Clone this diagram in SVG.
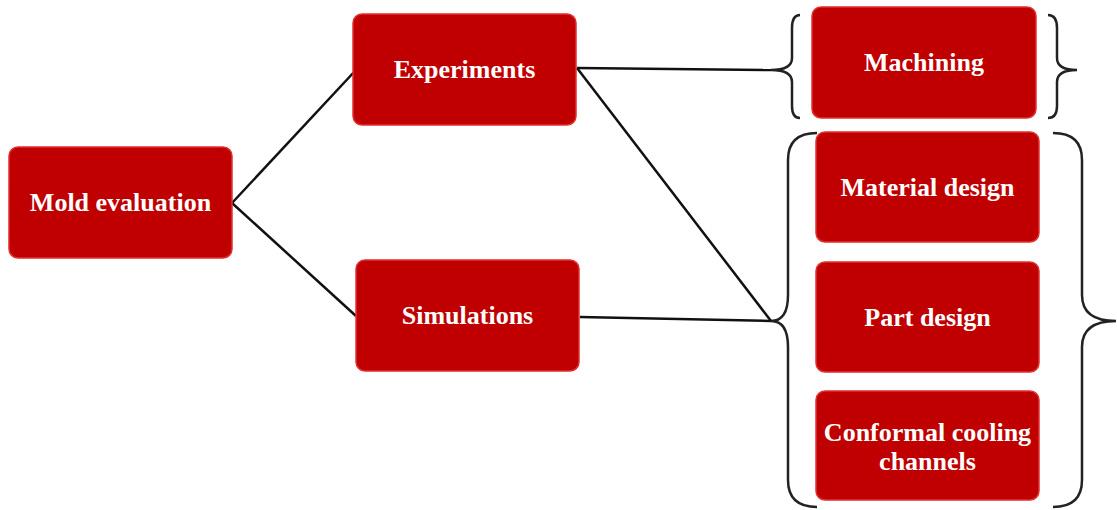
<svg xmlns="http://www.w3.org/2000/svg" width="1117" height="510" viewBox="0 0 1117 510">
<style>
.box{fill:#C00000;stroke:#E03030;stroke-width:1.5}
.lbl{fill:#FFFFFF;font-family:"Liberation Serif","Times New Roman",serif;font-weight:bold;font-size:26px;text-anchor:middle;dominant-baseline:central}
.ln{fill:none;stroke:#111111;stroke-width:2.5}
.br{fill:none;stroke:#222222;stroke-width:2.5}
</style>
<rect width="1117" height="510" fill="#FFFFFF"/>
<g id="connectors">
<line class="ln" x1="232" y1="203" x2="355" y2="71"/>
<line class="ln" x1="232" y1="203" x2="356" y2="316"/>
<line class="ln" x1="577" y1="68" x2="771" y2="70"/>
<line class="ln" x1="577" y1="68" x2="771" y2="321"/>
<line class="ln" x1="580" y1="317" x2="771" y2="321"/>
</g>
<g id="braces">
<path class="br" d="M800,15 Q792,15 792,28 L792,58 Q792,70 771,70 Q792,70 792,82 L792,106 Q792,118 800,118"/>
<path class="br" d="M1048,15 Q1057,15 1057,28 L1057,58 Q1057,70 1077,70 Q1057,70 1057,82 L1057,106 Q1057,118 1048,118"/>
<path class="br" d="M817,133 Q788,133 788,160 L788,295 Q788,321 771,321 Q788,321 788,347 L788,480 Q788,507 817,507"/>
<path class="br" d="M1053,133 Q1082,133 1082,160 L1082,295 Q1082,321 1116,321 Q1082,321 1082,347 L1082,480 Q1082,507 1053,507"/>
</g>
<g id="mold-evaluation">
<rect class="box" x="9" y="147" width="223" height="111" rx="9"/>
<text class="lbl" x="120.5" y="202">Mold evaluation</text>
</g>
<g id="experiments">
<rect class="box" x="353" y="14" width="223" height="111" rx="9"/>
<text class="lbl" x="464.5" y="69.5">Experiments</text>
</g>
<g id="simulations">
<rect class="box" x="356" y="260" width="223" height="111" rx="9"/>
<text class="lbl" x="467.5" y="315.5">Simulations</text>
</g>
<g id="machining">
<rect class="box" x="812" y="7" width="224" height="111" rx="9"/>
<text class="lbl" x="924" y="62.5">Machining</text>
</g>
<g id="material-design">
<rect class="box" x="816" y="132" width="223" height="110" rx="9"/>
<text class="lbl" x="927.5" y="187.5">Material design</text>
</g>
<g id="part-design">
<rect class="box" x="816" y="262" width="223" height="110" rx="9"/>
<text class="lbl" x="927.5" y="317">Part design</text>
</g>
<g id="conformal-cooling">
<rect class="box" x="816" y="391" width="223" height="109" rx="9"/>
<text class="lbl" x="927.5" y="432">Conformal cooling</text>
<text class="lbl" x="927.5" y="461">channels</text>
</g>
</svg>
